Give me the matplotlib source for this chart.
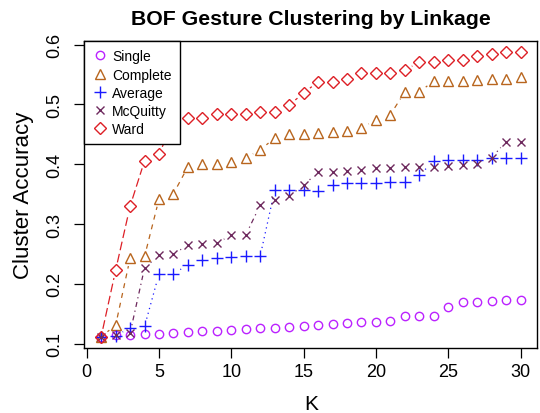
import numpy as np
import matplotlib
matplotlib.use("Agg")
import matplotlib.pyplot as plt
from matplotlib.lines import Line2D

plt.rcParams['font.family'] = ['Liberation Sans', 'DejaVu Sans']

# Cluster accuracy vs number of clusters K, one series per linkage method
k = np.arange(1, 31)

single = [0.112, 0.114, 0.114, 0.116, 0.117, 0.118, 0.120, 0.122, 0.122, 0.123,
          0.124, 0.126, 0.127, 0.128, 0.130, 0.131, 0.133, 0.134, 0.136, 0.137,
          0.138, 0.146, 0.146, 0.147, 0.162, 0.170, 0.170, 0.171, 0.173, 0.174]
complete = [0.112, 0.131, 0.243, 0.246, 0.342, 0.351, 0.396, 0.401, 0.401, 0.404,
            0.411, 0.424, 0.444, 0.450, 0.451, 0.453, 0.454, 0.455, 0.461, 0.474,
            0.483, 0.521, 0.521, 0.539, 0.539, 0.540, 0.541, 0.542, 0.542, 0.546]
average = [0.112, 0.113, 0.127, 0.129, 0.217, 0.217, 0.232, 0.240, 0.243, 0.245,
           0.246, 0.247, 0.357, 0.357, 0.357, 0.355, 0.366, 0.368, 0.368, 0.369,
           0.370, 0.371, 0.382, 0.405, 0.407, 0.407, 0.407, 0.411, 0.410, 0.410]
mcquitty = [0.112, 0.115, 0.118, 0.227, 0.248, 0.250, 0.265, 0.267, 0.268, 0.282,
            0.282, 0.332, 0.341, 0.347, 0.365, 0.387, 0.387, 0.389, 0.390, 0.393,
            0.393, 0.395, 0.396, 0.396, 0.397, 0.398, 0.400, 0.411, 0.438, 0.438]
ward = [0.112, 0.223, 0.330, 0.406, 0.417, 0.471, 0.477, 0.477, 0.484, 0.484,
        0.484, 0.488, 0.488, 0.499, 0.519, 0.538, 0.538, 0.542, 0.553, 0.553,
        0.553, 0.557, 0.571, 0.571, 0.574, 0.574, 0.581, 0.585, 0.587, 0.587]

names = ['Single', 'Complete', 'Average', 'McQuitty', 'Ward']
series = [single, complete, average, mcquitty, ward]
colors = ['#BB22FF', '#B8651E', '#1A1AFF', '#6E2A5E', '#DD1F26']
markers = ['o', '^', '+', 'x', 'D']
msizes = [6.0, 7.0, 8.0, 6.0, 6.5]
dashes = [None, (4, 4), (1, 3), (1, 3, 4, 3), (7, 3)]

fig = plt.figure(figsize=(5.4, 4.14), dpi=100)
ax = fig.add_axes([0.1563, 0.157, 0.8387, 0.7415])

# R style 4% padding on both axes
allv = np.concatenate([np.asarray(s) for s in series])
ypad = 0.04 * (allv.max() - allv.min())
xpad = 0.04 * (k.max() - k.min())
ax.set_xlim(k.min() - xpad, k.max() + xpad)
ax.set_ylim(allv.min() - ypad, allv.max() + ypad)

# type="b": segments between points, trimmed so they stop short of each marker
gap = 8.0
tr = ax.transData
inv = tr.inverted()
for vals, col, dsh in zip(series, colors, dashes):
    if dsh is None:
        continue
    pts = tr.transform(np.column_stack([k, vals]))
    for p0, p1 in zip(pts[:-1], pts[1:]):
        d = np.hypot(*(p1 - p0))
        if d <= 2 * gap:
            continue
        u = (p1 - p0) / d
        a = inv.transform(p0 + u * gap)
        b = inv.transform(p1 - u * gap)
        ax.plot([a[0], b[0]], [a[1], b[1]], color=col, lw=0.9,
                dashes=dsh, solid_capstyle='butt', dash_capstyle='butt')

for vals, col, m, ms in zip(series, colors, markers, msizes):
    ax.plot(k, vals, ls='none', marker=m, ms=ms, mfc='none', mec=col, mew=1.0)

ax.set_xticks([0, 5, 10, 15, 20, 25, 30])
ax.set_yticks([0.1, 0.2, 0.3, 0.4, 0.5, 0.6])
ax.set_yticklabels(['0.1', '0.2', '0.3', '0.4', '0.5', '0.6'], rotation=90, va='center')
ax.tick_params(direction='out', length=7, width=0.9, labelsize=13, pad=4)
ax.tick_params(axis='y', pad=8)
for sp in ax.spines.values():
    sp.set_linewidth(1.0)

ax.set_xlabel('K', fontsize=15, labelpad=10)
ax.set_ylabel('Cluster Accuracy', fontsize=16, labelpad=9)
ax.set_title('BOF Gesture Clustering by Linkage', fontsize=15.3, fontweight='bold', pad=12)

handles = [Line2D([], [], ls='none', marker=m, ms=ms, mfc='none', mec=c, mew=1.0)
           for m, ms, c in zip(markers, msizes, colors)]
leg = ax.legend(handles, names, loc='upper left', borderaxespad=0, fancybox=False,
                edgecolor='black', framealpha=1, fontsize=10, handlelength=1.0,
                handletextpad=0.4, labelspacing=0.3, borderpad=0.6)
leg.get_frame().set_linewidth(1.0)

fig.savefig('out.png', dpi=100)
